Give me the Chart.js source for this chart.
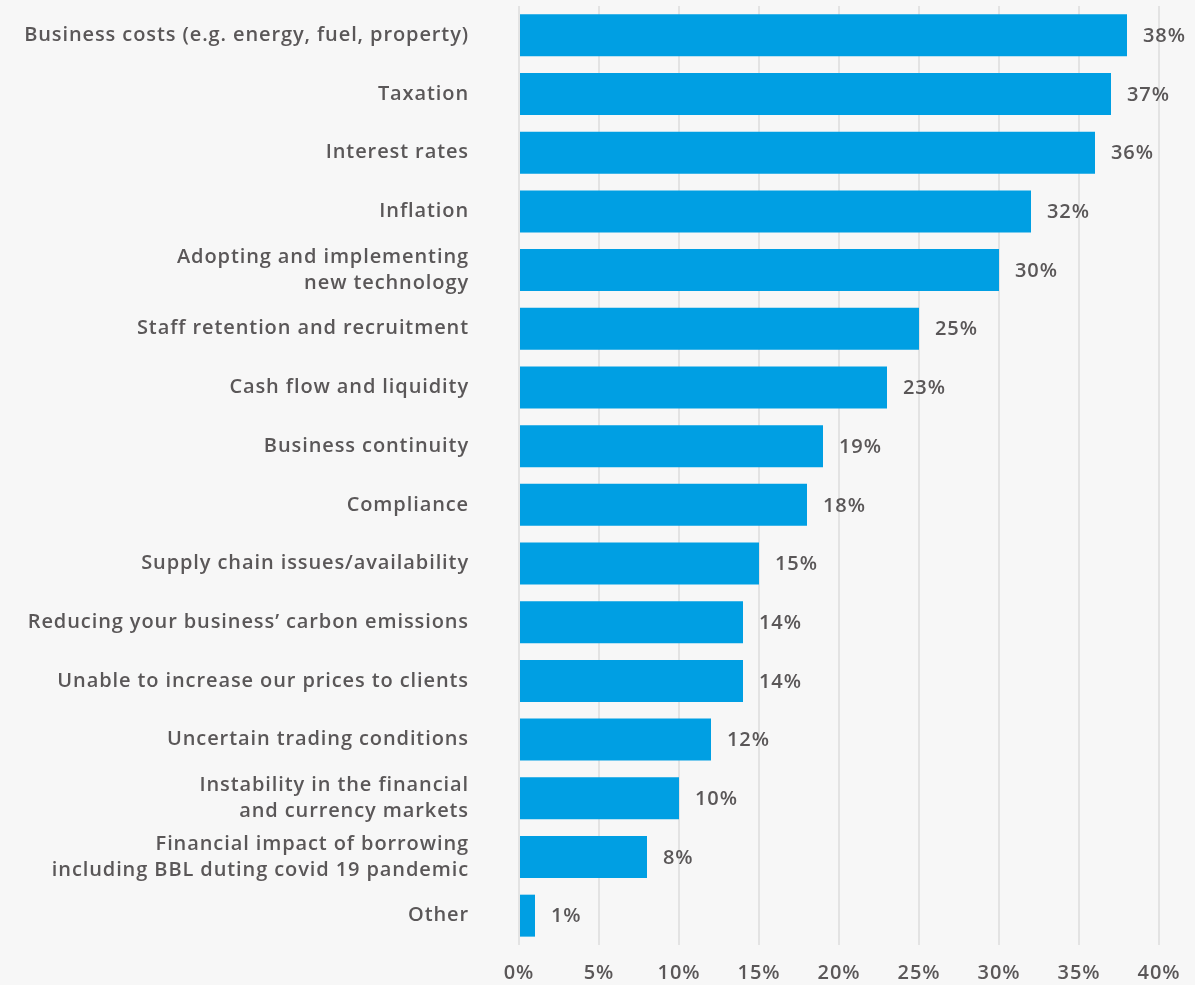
<!DOCTYPE html>
<html lang="en">
<head>
    <meta charset="UTF-8">
    <title>Business concerns</title>
    <script src="https://cdn.jsdelivr.net/npm/chart.js"></script>
    <style>
        body {
            margin: 0;
            background: #f7f7f7;
        }
        #wrap {
            width: 1195px;
            height: 985px;
        }
    </style>
</head>
<body>
    <div id="wrap"><canvas id="concernsChart" width="1195" height="985"></canvas></div>

    <script>
        const categories = [
            'Business costs (e.g. energy, fuel, property)',
            'Taxation',
            'Interest rates',
            'Inflation',
            ['Adopting and implementing', 'new technology'],
            'Staff retention and recruitment',
            'Cash flow and liquidity',
            'Business continuity',
            'Compliance',
            'Supply chain issues/availability',
            'Reducing your business\u2019 carbon emissions',
            'Unable to increase our prices to clients',
            'Uncertain trading conditions',
            ['Instability in the financial', 'and currency markets'],
            ['Financial impact of borrowing', 'including BBL duting covid 19 pandemic'],
            'Other'
        ];
        const percentages = [38, 37, 36, 32, 30, 25, 23, 19, 18, 15, 14, 14, 12, 10, 8, 1];
        const xTicks = [0, 5, 10, 15, 20, 25, 30, 35, 40];

        const textColor = '#5a5758';
        const fontFamily = '"Open Sans", Arial, sans-serif';
        const spacing = '0.9px';

        // slightly wider lettering for all chart text
        const letterSpacing = {
            id: 'letterSpacing',
            beforeDraw(chart) { chart.ctx.letterSpacing = spacing; },
            afterDraw(chart) { chart.ctx.letterSpacing = '0px'; }
        };

        // writes the percentage just past the end of each bar
        const valueLabels = {
            id: 'valueLabels',
            afterDatasetsDraw(chart) {
                const ctx = chart.ctx;
                const meta = chart.getDatasetMeta(0);
                ctx.save();
                ctx.font = '600 20px ' + fontFamily;
                ctx.fillStyle = textColor;
                ctx.textAlign = 'left';
                ctx.textBaseline = 'middle';
                meta.data.forEach((bar, i) => {
                    ctx.fillText(percentages[i] + '%', bar.x + 16, bar.y + 1);
                });
                ctx.restore();
            }
        };

        new Chart(document.getElementById('concernsChart'), {
            type: 'bar',
            data: {
                labels: categories,
                datasets: [{
                    data: percentages,
                    backgroundColor: '#009fe3',
                    borderWidth: 0,
                    categoryPercentage: 1,
                    barPercentage: 0.715
                }]
            },
            options: {
                indexAxis: 'y',
                responsive: false,
                animation: false,
                layout: { padding: { top: 6, right: 36, bottom: 0, left: 0 } },
                plugins: {
                    legend: { display: false },
                    tooltip: { enabled: false }
                },
                scales: {
                    x: {
                        min: 0,
                        max: 40,
                        afterBuildTicks(scale) {
                            scale.ticks = xTicks.map(v => ({ value: v }));
                        },
                        afterFit(scale) {
                            scale.height = 40;
                            scale.paddingLeft = 0;
                            scale.paddingRight = 0;
                        },
                        grid: { color: '#e3e3e3', lineWidth: 2, drawTicks: false },
                        border: { display: false },
                        ticks: {
                            padding: 16,
                            color: textColor,
                            font: { family: fontFamily, size: 20, weight: '600' },
                            callback: v => v + '%'
                        }
                    },
                    y: {
                        afterFit(scale) {
                            scale.width = 519;
                            scale.paddingTop = 0;
                            scale.paddingBottom = 0;
                        },
                        grid: { display: false, drawTicks: false },
                        border: { display: false },
                        ticks: {
                            padding: 50,
                            color: textColor,
                            font: { family: fontFamily, size: 20, weight: '600', lineHeight: 1.3 }
                        }
                    }
                }
            },
            plugins: [letterSpacing, valueLabels]
        });
    </script>
</body>
</html>
